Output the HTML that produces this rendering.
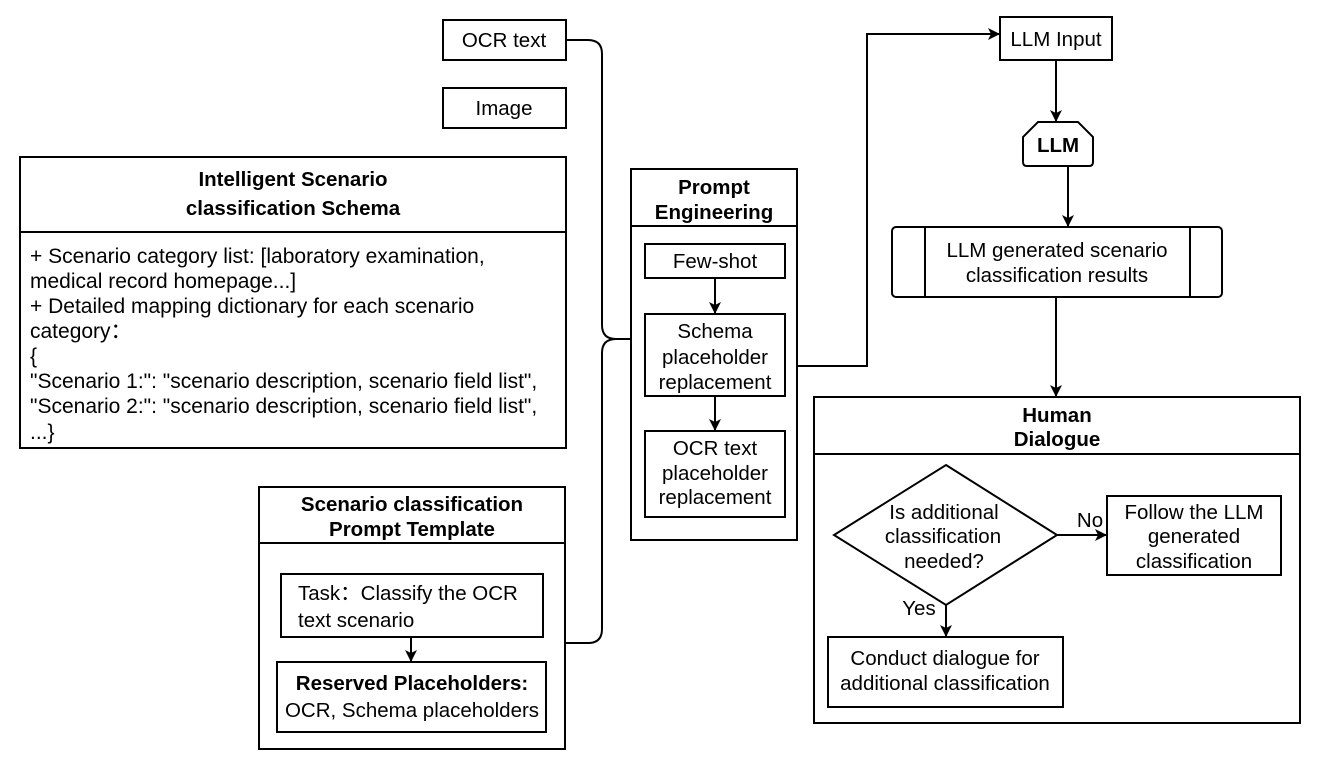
<!DOCTYPE html>
<html><head><meta charset="utf-8"><style>
html,body{margin:0;padding:0;background:#fff}
svg{display:block}
text{font-family:"Liberation Sans",Arial,sans-serif;font-size:20.5px;fill:#000}
.b{font-weight:bold}
.s{font-size:21px}
</style></head><body>
<svg width="1329" height="773" viewBox="0 0 1329 773" xmlns="http://www.w3.org/2000/svg">
<defs><marker id="a" markerWidth="12" markerHeight="12" refX="11" refY="6" orient="auto" markerUnits="userSpaceOnUse"><path d="M0,0 L12,6 L0,12 L3,6 z" fill="#000"/></marker></defs>
<g fill="none" stroke="#000" stroke-width="2">
<rect x="443" y="20" width="123" height="40"/>
<rect x="443" y="88" width="123" height="40"/>
<rect x="20" y="157" width="546" height="291"/>
<line x1="20" y1="232" x2="566" y2="232"/>
<rect x="631" y="169" width="166" height="371"/>
<line x1="631" y1="226" x2="797" y2="226"/>
<rect x="645" y="244" width="140" height="34"/>
<rect x="645" y="314" width="140" height="82"/>
<rect x="645" y="431" width="140" height="86"/>
<line x1="715" y1="278" x2="715" y2="313" marker-end="url(#a)"/>
<line x1="715" y1="396" x2="715" y2="430" marker-end="url(#a)"/>
<rect x="259" y="487" width="306" height="262"/>
<line x1="259" y1="543" x2="565" y2="543"/>
<rect x="281" y="574" width="262" height="63"/>
<rect x="277" y="662" width="269" height="70"/>
<line x1="411" y1="637" x2="411" y2="661" marker-end="url(#a)"/>
<path d="M566,40 L588,40 Q602,40 602,54 L602,325 Q602,339 616,339 L631,339"/>
<path d="M565,643 L588,643 Q602,643 602,629 L602,353 Q602,339 616,339"/>
<path d="M797,366 L867,366 L867,34 L999,34" marker-end="url(#a)"/>
<rect x="1000" y="17" width="112" height="43"/>
<line x1="1056" y1="60" x2="1056" y2="121" marker-end="url(#a)"/>
<path d="M1038,122 L1078,122 L1093,137 L1093,162 Q1093,166 1089,166 L1027,166 Q1023,166 1023,162 L1023,137 Z"/>
<line x1="1068" y1="166" x2="1068" y2="226" marker-end="url(#a)"/>
<rect x="892" y="227" width="330" height="70" rx="4"/>
<line x1="925" y1="227" x2="925" y2="297"/>
<line x1="1190" y1="227" x2="1190" y2="297"/>
<line x1="1056" y1="297" x2="1056" y2="396" marker-end="url(#a)"/>
<rect x="814" y="397" width="486" height="326"/>
<line x1="814" y1="454" x2="1300" y2="454"/>
<path d="M946,465 L1057,535 L946,605 L834,535 Z"/>
<line x1="1057" y1="535" x2="1106" y2="535" marker-end="url(#a)"/>
<rect x="1107" y="496" width="174" height="79"/>
<line x1="946" y1="605" x2="946" y2="636" marker-end="url(#a)"/>
<rect x="828" y="637" width="235" height="70"/>
</g>
<g text-anchor="middle">
<text x="504" y="47">OCR text</text>
<text x="504" y="115">Image</text>
<text x="293" y="186" class="b">Intelligent Scenario</text>
<text x="293" y="215" class="b">classification Schema</text>
<text x="714" y="194" class="b">Prompt</text>
<text x="714" y="219" class="b">Engineering</text>
<text x="715" y="268">Few-shot</text>
<text x="715" y="338">Schema</text>
<text x="715" y="364">placeholder</text>
<text x="715" y="389">replacement</text>
<text x="715" y="455">OCR text</text>
<text x="715" y="480">placeholder</text>
<text x="715" y="504">replacement</text>
<text x="412" y="511" class="b">Scenario classification</text>
<text x="412" y="536" class="b">Prompt Template</text>
<text x="412" y="690" class="b">Reserved Placeholders:</text>
<text x="412" y="717">OCR, Schema placeholders</text>
<text x="1056" y="46">LLM Input</text>
<text x="1058" y="152" class="b">LLM</text>
<text x="1057" y="257">LLM generated scenario</text>
<text x="1057" y="282">classification results</text>
<text x="1057" y="422" class="b">Human</text>
<text x="1057" y="446" class="b">Dialogue</text>
<text x="944" y="519">Is additional</text>
<text x="943" y="543">classification</text>
<text x="944" y="568">needed?</text>
<text x="1194" y="519">Follow the LLM</text>
<text x="1194" y="543">generated</text>
<text x="1194" y="568">classification</text>
<text x="945" y="665">Conduct dialogue for</text>
<text x="945" y="690">additional classification</text>
<text x="1090" y="527">No</text>
<text x="919" y="615">Yes</text>
</g>
<g>
<text class="s" x="30" y="263">+  Scenario category list: [laboratory examination,</text>
<text class="s" x="30" y="288">medical record homepage...]</text>
<text class="s" x="30" y="313">+  Detailed mapping dictionary for each scenario</text>
<text class="s" x="30" y="338">category：</text>
<text class="s" x="30" y="363"> {</text>
<text class="s" x="30" y="388">"Scenario 1:": "scenario description, scenario field list",</text>
<text class="s" x="30" y="413">"Scenario 2:": "scenario description, scenario field list",</text>
<text class="s" x="30" y="439">...}</text>
<text x="298" y="600">Task：Classify the OCR</text>
<text x="298" y="627">text scenario</text>
</g>
</svg>
</body></html>
